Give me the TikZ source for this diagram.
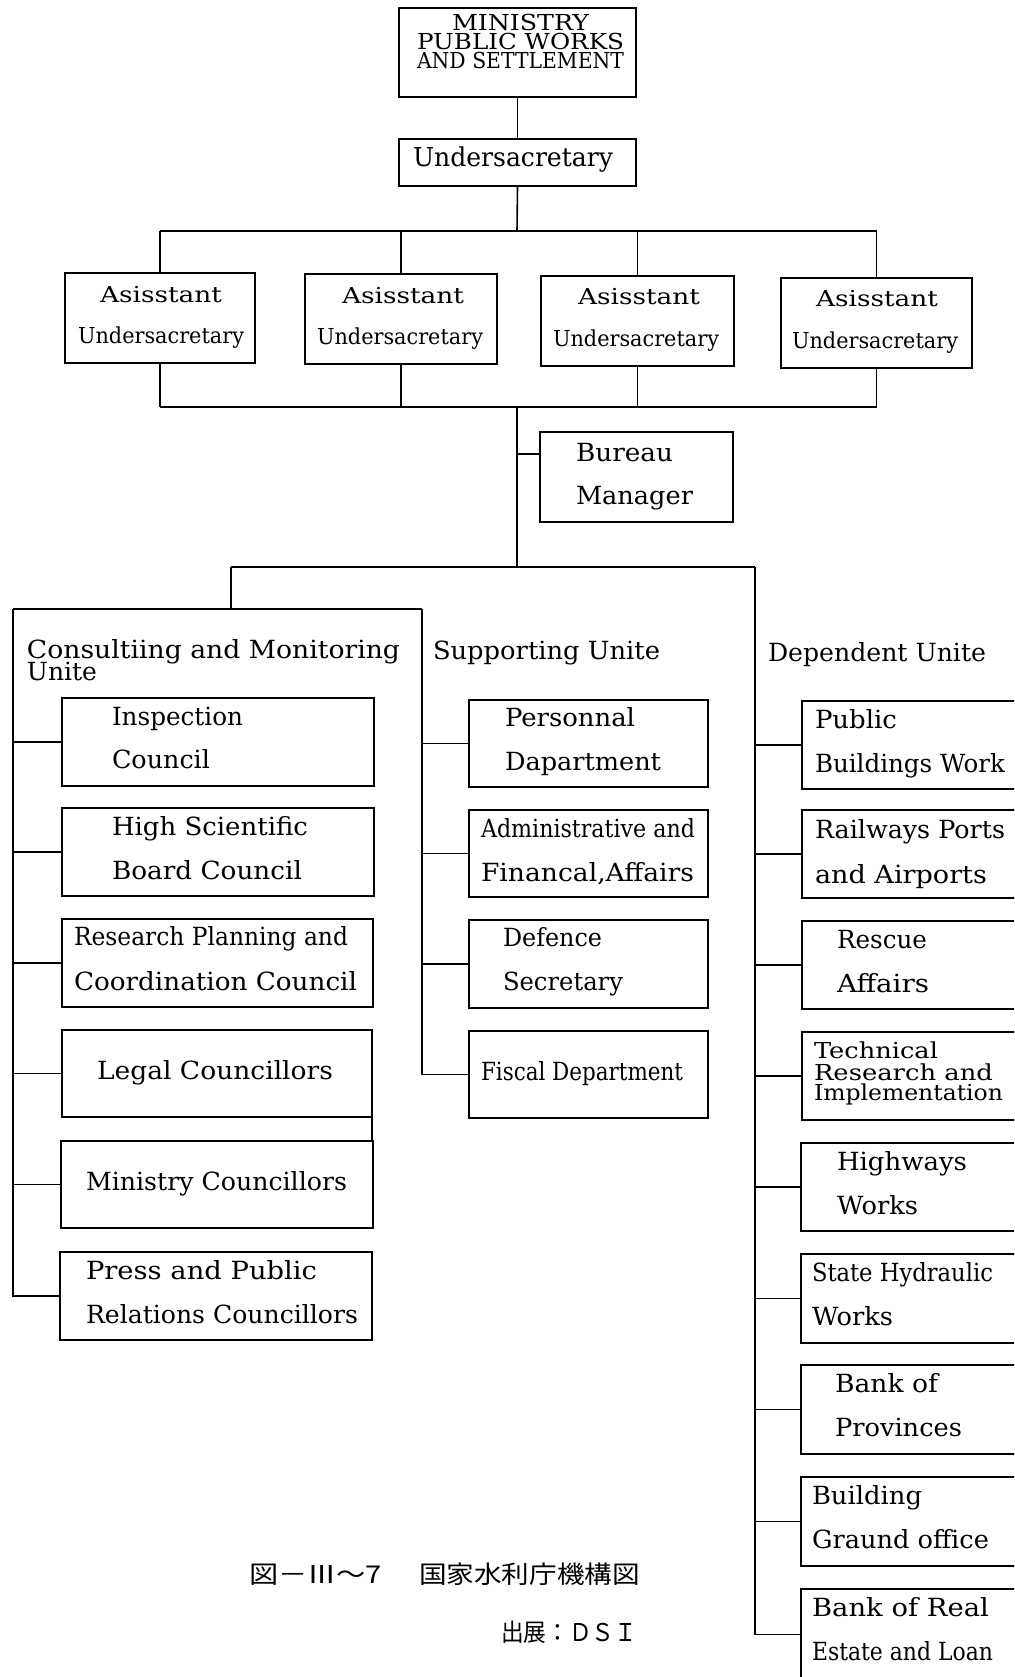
\documentclass[tikz,border=0pt]{standalone}
\usepackage{fontspec}
\usepackage{graphicx}
\setmainfont{DejaVu Serif}
\newfontfamily\cjkfont{Noto Sans CJK JP}
\tikzset{
  box/.style={draw, line width=1.6pt, rectangle, inner sep=0pt, outer sep=0pt},
  ln/.style={line width=1.6pt},
  txt/.style={anchor=base west, inner sep=0pt, outer sep=0pt},
}
\newcommand{\mybox}[5]{\pgfmathsetmacro{\bxw}{#4-#2}\pgfmathsetmacro{\bxh}{#5-#3}%
  \node[box, minimum width=\bxw pt, minimum height=\bxh pt, anchor=north west] (#1) at (#2,#3) {};}
\newcommand{\mytext}[6]{\node[txt] (#1) at (#2,#3) {\resizebox{#4pt}{\height}{\fontsize{#5pt}{#5pt}\selectfont #6}};}
\begin{document}
\begin{tikzpicture}[x=1pt,y=-1pt]
\fill[white] (0,0) rectangle (1014,1677);
\clip (0,0) rectangle (1014,1677);
\useasboundingbox (0,0) rectangle (1014,1677);

% ---------- boxes ----------
\mybox{min}{399}{8}{636}{97}
\mybox{und}{399}{139}{636}{186}
\mybox{a1}{65}{273}{255}{363}
\mybox{a2}{305}{274}{497}{364}
\mybox{a3}{541}{276}{734}{366}
\mybox{a4}{781}{278}{972}{368}
\mybox{bur}{540}{432}{733}{522}
\mybox{c1}{62}{698}{374}{786}
\mybox{c2}{62}{808}{374}{896}
\mybox{c3}{62}{919}{373}{1007}
\mybox{c4}{62}{1030}{372}{1117}
\mybox{c5}{61}{1141}{373}{1228}
\mybox{c6}{60}{1252}{372}{1340}
\mybox{s1}{469}{700}{708}{787}
\mybox{s2}{469}{810}{708}{897}
\mybox{s3}{469}{920}{708}{1008}
\mybox{s4}{469}{1031}{708}{1118}
\mybox{d1}{802}{701}{1030}{789}
\mybox{d2}{802}{810}{1030}{898}
\mybox{d3}{802}{921}{1030}{1009}
\mybox{d4}{802}{1032}{1030}{1120}
\mybox{d5}{801}{1143}{1030}{1231}
\mybox{d6}{801}{1254}{1030}{1343}
\mybox{d7}{801}{1365}{1030}{1454}
\mybox{d8}{801}{1477}{1030}{1566}
\mybox{d9}{801}{1589}{1030}{1680}

% ---------- junction coordinates ----------
\coordinate (tb) at (517,231);
\coordinate (bb) at (517,407);
\coordinate (bj) at (517,454);
\coordinate (sp) at (517,567);
\coordinate (spL) at (231,567);
\coordinate (spR) at (755,567);
\coordinate (cTL) at (13,609);
\coordinate (cTR) at (422,609);

% ---------- connectors ----------
\draw[ln] (min.south) -- (und.north);
\draw[ln] (und.south) -- (tb);
\draw[ln] (a1.north |- tb) -- (a4.north |- tb);
\foreach \n in {a1,a2,a3,a4}{
  \draw[ln] (\n.north) -- (\n.north |- tb);
  \draw[ln] (\n.south) -- (\n.south |- bb);
}
\draw[ln] (a1.south |- bb) -- (a4.south |- bb);
\draw[ln] (bb) -- (sp);
\draw[ln] (bj) -- (bj -| bur.west);
\draw[ln] (spL) -- (spR);
\draw[ln] (spL) -- (spL |- cTL);
\draw[ln] (cTL) -- (cTR);
\draw[ln] (cTL) |- (c6.west);
\foreach \n in {c1,c2,c3,c4,c5}{\draw[ln] (c6.west -| cTL) |- (\n.west);}
\foreach \n in {c1,c2,c3,c4,c5}{\draw[ln] (\n.west -| cTL) -- (\n.west);}
\draw[ln] (c4.south east) -- (c4.south east |- c5.north);
\draw[ln] (cTR) |- (s4.west);
\foreach \n in {s1,s2,s3}{\draw[ln] (\n.west -| cTR) -- (\n.west);}
\draw[ln] (spR) |- (d9.west);
\foreach \n in {d1,d2,d3,d4,d5,d6,d7,d8}{\draw[ln] (\n.west -| spR) -- (\n.west);}

% ---------- texts ----------
\mytext{tmin1}{452}{31}{137}{22}{MINISTRY}
\mytext{tmin2}{417}{50}{207}{22}{PUBLIC WORKS}
\mytext{tmin3}{417}{69}{207}{22}{AND SETTLEMENT}
\mytext{tund}{413}{167}{200}{26}{Undersacretary}

\mytext{ta1a}{100}{302}{122}{22}{Asisstant}
\mytext{ta1b}{78}{343}{166}{22}{Undersacretary}
\mytext{ta2a}{342}{303}{122}{22}{Asisstant}
\mytext{ta2b}{317}{344}{166}{22}{Undersacretary}
\mytext{ta3a}{578}{304}{122}{22}{Asisstant}
\mytext{ta3b}{553}{346}{166}{22}{Undersacretary}
\mytext{ta4a}{816}{306}{122}{22}{Asisstant}
\mytext{ta4b}{792}{348}{166}{22}{Undersacretary}

\mytext{tbur1}{576}{461}{97}{25}{Bureau}
\mytext{tbur2}{576}{504}{117}{25}{Manager}

\mytext{hc1}{27}{658}{373}{25}{Consultiing and Monitoring}
\mytext{hc2}{27}{680}{70}{25}{Unite}
\mytext{hs}{433}{659}{227}{25}{Supporting Unite}
\mytext{hd}{768}{661}{218}{25}{Dependent Unite}

\mytext{tc1a}{112}{725}{131}{25}{Inspection}
\mytext{tc1b}{112}{768}{98}{25}{Council}
\mytext{tc2a}{112}{835}{196}{25}{High Scientific}
\mytext{tc2b}{112}{879}{190}{25}{Board Council}
\mytext{tc3a}{74}{945}{274}{25}{Research Planning and}
\mytext{tc3b}{74}{990}{283}{25}{Coordination Council}
\mytext{tc4}{97}{1079}{236}{25}{Legal Councillors}
\mytext{tc5}{86}{1190}{261}{25}{Ministry Councillors}
\mytext{tc6a}{86}{1279}{231}{25}{Press and Public}
\mytext{tc6b}{86}{1323}{272}{25}{Relations Councillors}

\mytext{ts1a}{505}{726}{130}{25}{Personnal}
\mytext{ts1b}{505}{770}{156}{25}{Dapartment}
\mytext{ts2a}{481}{837}{214}{25}{Administrative and}
\mytext{ts2b}{481}{881}{213}{25}{Financal,Affairs}
\mytext{ts3a}{503}{946}{99}{25}{Defence}
\mytext{ts3b}{503}{990}{120}{25}{Secretary}
\mytext{ts4}{481}{1080}{202}{25}{Fiscal Department}

\mytext{td1a}{815}{728}{82}{25}{Public}
\mytext{td1b}{815}{772}{190}{25}{Buildings Work}
\mytext{td2a}{815}{838}{190}{25}{Railways Ports}
\mytext{td2b}{815}{883}{172}{25}{and Airports}
\mytext{td3a}{837}{948}{90}{25}{Rescue}
\mytext{td3b}{837}{992}{92}{25}{Affairs}
\mytext{td4a}{814}{1058}{124}{22}{Technical}
\mytext{td4b}{814}{1080}{179}{22}{Research and}
\mytext{td4c}{814}{1100}{189}{22}{Implementation}
\mytext{td5a}{837}{1170}{130}{25}{Highways}
\mytext{td5b}{837}{1214}{81}{25}{Works}
\mytext{td6a}{812}{1281}{181}{25}{State Hydraulic}
\mytext{td6b}{812}{1325}{81}{25}{Works}
\mytext{td7a}{835}{1392}{103}{25}{Bank of}
\mytext{td7b}{835}{1436}{127}{25}{Provinces}
\mytext{td8a}{812}{1504}{110}{25}{Building}
\mytext{td8b}{812}{1548}{177}{25}{Graund office}
\mytext{td9a}{812}{1616}{177}{25}{Bank of Real}
\mytext{td9b}{812}{1660}{181}{25}{Estate and Loan}

% ---------- caption ----------
\mytext{cap1}{249}{1583}{133}{24.5}{\cjkfont 図－Ⅲ～7}
\mytext{cap2}{419}{1583}{221}{24.5}{\cjkfont 国家水利庁機構図}
\mytext{cap3}{501}{1641}{136}{24.5}{\cjkfont 出展：ＤＳＩ}
\end{tikzpicture}
\end{document}
